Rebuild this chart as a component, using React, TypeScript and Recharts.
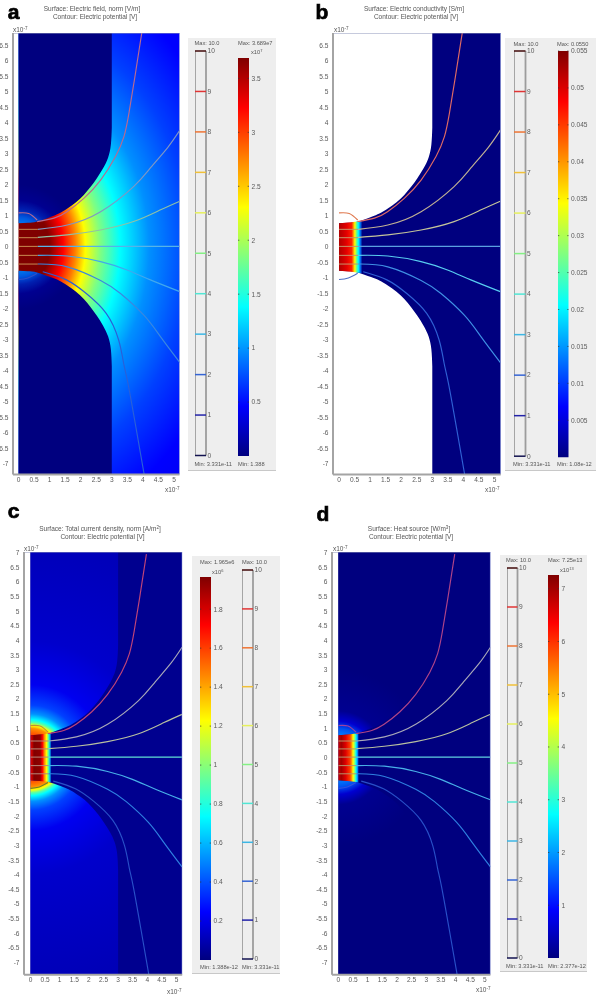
import React from "react";
import { ComposedChart, Area, Line, XAxis, YAxis } from "recharts";

// ---- shared geometry (units of 1e-7 m)
const xTicks = [0, 0.5, 1, 1.5, 2, 2.5, 3, 3.5, 4, 4.5, 5];
const yTicksAB = [-7, -6.5, -6, -5.5, -5, -4.5, -4, -3.5, -3, -2.5, -2, -1.5, -1, -0.5, 0, 0.5, 1, 1.5, 2, 2.5, 3, 3.5, 4, 4.5, 5, 5.5, 6, 6.5];
const yTicksCD = [...yTicksAB, 7];
const levelTicks = [0, 1, 2, 3, 4, 5, 6, 7, 8, 9, 10];
const levelColors = ["#12124f", "#2222a8", "#3464d4", "#3cb6e4", "#50e6d4", "#84f084", "#e6f05c", "#f0c038", "#ee7434", "#e03434", "#400808"];

const electrodeX = [0, 0.3, 0.6, 1.03, 1.3, 1.57, 1.85, 2.1, 2.32, 2.52, 2.72, 2.88, 2.97, 3.0];
const electrodeEdge = [0.77, 0.78, 0.82, 0.97, 1.08, 1.24, 1.44, 1.68, 1.94, 2.22, 2.54, 2.88, 3.3, 3.85];

const line9X = [0.6, 1.14, 1.56, 2.1, 2.64, 3.12, 3.39, 3.55, 3.76, 3.97];
const line9Y = [0.82, 0.93, 1.14, 1.57, 2.16, 2.92, 3.56, 4.31, 5.6, 6.95];
const line8X = [0.62, 1.57, 2.64, 3.7, 4.24, 4.79, 5.19];
const line8Y = [0.57, 0.71, 1.14, 1.95, 2.55, 3.2, 3.77];
const line7X = [0.62, 1.57, 2.64, 3.7, 4.57, 5.19];
const line7Y = [0.31, 0.39, 0.55, 0.82, 1.2, 1.48];
const line5X = [0.62, 5.19];
const line5Y = [0.02, 0.02];
const line4X = [0.62, 1.57, 2.64, 3.49, 4.24, 5.19];
const line4Y = [-0.27, -0.29, -0.47, -0.74, -1.06, -1.44];
const line3X = [0.62, 1.57, 2.64, 3.28, 4.03, 4.57, 5.19];
const line3Y = [-0.55, -0.64, -1.08, -1.5, -2.2, -2.9, -3.73];
const line2X = [0.78, 1.54, 2.18, 2.82, 3.22, 3.38, 3.52, 3.79, 4.06];
const line2Y = [-0.8, -1.06, -1.5, -2.14, -3.0, -3.75, -4.4, -5.9, -7.45];
const arcTopX = [0, 0.33, 0.6];
const arcTopY = [1.1, 1.08, 0.87];
const arcBottomX = [0, 0.3, 0.6];
const arcBottomY = [-1.05, -1.0, -0.85];
const stripTopX = [0, 0.4, 0.8];
const stripTopY = [0.77, 0.8, 0.85];
const innerLineY = [0.57, 0.3, 0.02, -0.27, -0.55];

const jetOffsets = [0, 0.125, 0.375, 0.5, 0.625, 0.875, 1];
const jetColors = ["#00007f", "#0000ff", "#00ffff", "#80ff80", "#ffff00", "#ff0000", "#7f0000"];

// ---- panel a
const aFieldR = [0, 1.0, 1.44, 1.83, 2.15, 2.63, 3.27, 4.2, 5.5, 7, 9];
const aFieldC = ["#7f0000", "#800000", "#ff0000", "#ff8000", "#ffff00", "#80ff80", "#00ffff", "#0090ff", "#0040ff", "#0000ff", "#0000e8"];
const aElecR = [0.7, 0.95, 1.2, 1.5, 2.0, 9];
const aElecC = ["#0080f0", "#0058e0", "#0020b0", "#000090", "#00007f", "#00007f"];
// ---- panel b
const bStripX = [0, 0.12, 0.25, 0.41, 0.46, 0.51, 0.57, 0.62, 0.68, 0.75];
const bStripC = ["#b00000", "#c80000", "#e60000", "#ff2000", "#ff9000", "#ffff00", "#60ff90", "#00ffff", "#0080ff", "#00007f"];
// ---- panel c
const cElecR = [0.75, 1.0, 1.1, 1.2, 1.3, 1.5, 1.8, 2.5, 4, 9];
const cElecC = ["#ff4000", "#ff9000", "#ffff00", "#60ffa0", "#00ffff", "#0090ff", "#0040ff", "#0000f0", "#0000cc", "#0000b0"];
const cStripX = [0, 0.06, 0.12, 0.33, 0.41, 0.48, 0.55, 0.61, 0.66, 0.72];
const cStripC = ["#e00000", "#c00000", "#800000", "#900000", "#ff0000", "#ff9000", "#ffff00", "#60ff90", "#00c0ff", "#00008f"];
// ---- panel d
const dElecR = [0.75, 1.0, 1.25, 1.6, 3, 9];
const dElecC = ["#0080ff", "#0050f0", "#0000d0", "#000090", "#00007f", "#00007f"];
const dStripX = [0, 0.1, 0.25, 0.4, 0.45, 0.5, 0.56, 0.6, 0.65, 0.68];
const dStripC = ["#d00000", "#a00000", "#e00000", "#ff4000", "#ff9000", "#ffff00", "#80ff80", "#00ffff", "#0090ff", "#0070e0"];

const FONT = "'Liberation Sans', Arial, sans-serif";
const TICK = { fontSize: 6.6, fill: "#5a5a5a", fontFamily: FONT };
const zip = (xs: number[], ys: number[]) => xs.map((x, i) => ({ x, y: ys[i] }));

type PanelProps = {
  id: string; axisX: number; right: number; zeroX: number; scale: number;
  top: number; bottom: number; zeroY: number; yScale: number; yTicks: number[];
  fieldFill: string; elecFill: string;
  field?: [number[], string[], number];
  elec?: [number[], string[]];
  strip?: [number[], string[], number];
  colors: string[]; innerColor: string;
};

function stripStops(xs: number[], cs: string[], end: number) {
  return xs.map((x, i) => <stop key={i} offset={x / end} stopColor={cs[i]} />);
}

function FieldPlot(p: PanelProps) {
  const W = 30, mt = 10, mr = 5, H = 30;
  const plotW = p.right - p.axisX, plotH = p.bottom - p.top;
  const xMin = (p.axisX - p.zeroX) / p.scale;
  const xMax = (p.right - p.zeroX) / p.scale;
  const yMax = (p.zeroY - p.top) / p.yScale;
  const yMin = (p.zeroY - p.bottom) / p.yScale;
  const cx = W + (0 - xMin) * p.scale;
  const cy = mt + yMax * p.yScale;
  const bg = [{ x: 0, r: [yMin, yMax] }, { x: xMax, r: [yMin, yMax] }];
  const elecTop = electrodeX.map((x, i) => ({ x, r: [electrodeEdge[i], yMax] }));
  const elecBot = electrodeX.map((x, i) => ({ x, r: [yMin, -electrodeEdge[i]] }));
  const stripEnd = p.strip ? p.strip[2] : 0.7;
  const strip = [...stripTopX.filter((x) => x < stripEnd), stripEnd].map((x) => {
    const k = x <= 0.4 ? x / 0.4 : (x - 0.4) / 0.4;
    const e = x <= 0.4 ? stripTopY[0] + (stripTopY[1] - stripTopY[0]) * k : stripTopY[1] + (stripTopY[2] - stripTopY[1]) * k;
    return { x, r: [-e, e] };
  });
  const lines: [number[], number[]][] = [[line9X, line9Y], [line8X, line8Y], [line7X, line7Y], [line5X, line5Y], [line4X, line4Y], [line3X, line3Y], [line2X, line2Y], [arcTopX, arcTopY], [arcBottomX, arcBottomY]];
  return (
    <div style={{ position: "absolute", left: p.axisX - W, top: p.top - mt }}>
      <ComposedChart width={W + plotW + mr} height={mt + plotH + H} margin={{ top: mt, right: mr, bottom: 0, left: 0 }}>
        <defs>
          {p.field && (
            <radialGradient id={p.id + "f"} gradientUnits="userSpaceOnUse" cx={cx} cy={cy} r={p.field[0][p.field[0].length - 1] * p.scale}
              gradientTransform={`translate(${cx} ${cy}) scale(1 ${p.field[2]}) translate(${-cx} ${-cy})`}>
              {p.field[0].map((r, i) => <stop key={i} offset={r / p.field![0][p.field![0].length - 1]} stopColor={p.field![1][i]} />)}
            </radialGradient>
          )}
          {p.elec && (
            <radialGradient id={p.id + "e"} gradientUnits="userSpaceOnUse" cx={cx} cy={cy} r={p.elec[0][p.elec[0].length - 1] * p.scale}>
              {p.elec[0].map((r, i) => <stop key={i} offset={r / p.elec![0][p.elec![0].length - 1]} stopColor={p.elec![1][i]} />)}
            </radialGradient>
          )}
          {p.strip && (
            <linearGradient id={p.id + "s"} x1="0" x2="1" y1="0" y2="0">
              {stripStops(p.strip[0], p.strip[1], p.strip[2])}
            </linearGradient>
          )}
        </defs>
        <XAxis dataKey="x" type="number" domain={[xMin, xMax]} ticks={xTicks} allowDataOverflow height={H} tick={TICK} tickLine={false} tickSize={0} tickMargin={3} interval={0}
          axisLine={{ stroke: "#a4a4a4", strokeWidth: 2 }} />
        <YAxis type="number" domain={[yMin, yMax]} ticks={p.yTicks} allowDataOverflow width={W} tick={TICK} tickLine={false} tickSize={0} tickMargin={4.5} interval={0}
          axisLine={{ stroke: "#a4a4a4", strokeWidth: 2 }} />
        <Area data={bg} dataKey="r" type="linear" stroke="none" fill={p.field ? `url(#${p.id}f)` : p.fieldFill} fillOpacity={1} dot={false} activeDot={false} isAnimationActive={false} />
        <Area data={elecTop} dataKey="r" type="natural" stroke="none" fill={p.elec ? `url(#${p.id}e)` : p.elecFill} fillOpacity={1} dot={false} activeDot={false} isAnimationActive={false} />
        <Area data={elecBot} dataKey="r" type="natural" stroke="none" fill={p.elec ? `url(#${p.id}e)` : p.elecFill} fillOpacity={1} dot={false} activeDot={false} isAnimationActive={false} />
        {p.strip && <Area data={strip} dataKey="r" type="linear" stroke="none" fill={`url(#${p.id}s)`} fillOpacity={1} dot={false} activeDot={false} isAnimationActive={false} />}
        {innerLineY.map((y, i) => (
          <Line key={"in" + i} data={[{ x: 0, y }, { x: 0.62, y }]} dataKey="y" type="linear" stroke={p.innerColor} strokeWidth={1} dot={false} activeDot={false} isAnimationActive={false} />
        ))}
        {lines.map(([xs, ys], i) => (
          <Line key={i} data={zip(xs, ys)} dataKey="y" type="natural" stroke={p.colors[i]} strokeWidth={1.15} dot={false} activeDot={false} isAnimationActive={false} />
        ))}
        <Line data={[{ x: xMin, y: yMax }, { x: xMax, y: yMax }]} dataKey="y" type="linear" stroke="#8d96bb" strokeWidth={1.2} dot={false} activeDot={false} isAnimationActive={false} />
        <Line data={[{ x: xMax, y: yMin }, { x: xMax, y: yMax }]} dataKey="y" type="linear" stroke="#6f7ed0" strokeWidth={1} dot={false} activeDot={false} isAnimationActive={false} />
      </ComposedChart>
    </div>
  );
}

function ContourBar({ left, top, bottom, width }: { left: number; top: number; bottom: number; width: number }) {
  const m = 5;
  return (
    <div style={{ position: "absolute", left, top: top - m }}>
      <ComposedChart width={width + 24} height={bottom - top + 2 * m} margin={{ top: m, bottom: m, left: 0, right: 0 }}>
        <XAxis hide dataKey="x" type="number" domain={[0, 1]} />
        <YAxis orientation="right" type="number" domain={[0, 10]} ticks={levelTicks} interval={0} width={24} axisLine={false} tickLine={false} tickSize={0} tick={TICK} tickMargin={1.5} />
        <Line data={[{ x: 0, y: 0 }, { x: 0, y: 10 }]} dataKey="y" type="linear" stroke="#9c9c9c" strokeWidth={1.8} dot={false} activeDot={false} isAnimationActive={false} />
        <Line data={[{ x: 1, y: 0 }, { x: 1, y: 10 }]} dataKey="y" type="linear" stroke="#9c9c9c" strokeWidth={1.8} dot={false} activeDot={false} isAnimationActive={false} />
        {levelTicks.map((l) => (
          <Line key={l} data={[{ x: 0, y: l }, { x: 1, y: l }]} dataKey="y" type="linear" stroke={levelColors[l]} strokeWidth={1.5} dot={false} activeDot={false} isAnimationActive={false} />
        ))}
      </ComposedChart>
    </div>
  );
}

function SurfaceBar({ id, left, top, bottom, width, max, ticks }: { id: string; left: number; top: number; bottom: number; width: number; max: number; ticks: number[] }) {
  const m = 5;
  return (
    <div style={{ position: "absolute", left, top: top - m }}>
      <ComposedChart width={width + 30} height={bottom - top + 2 * m} margin={{ top: m, bottom: m, left: 0, right: 0 }}>
        <defs>
          <linearGradient id={id} x1="0" x2="0" y1="1" y2="0">
            {jetOffsets.map((o, i) => <stop key={i} offset={o} stopColor={jetColors[i]} />)}
          </linearGradient>
        </defs>
        <XAxis hide dataKey="x" type="number" domain={[0, 1]} />
        <YAxis orientation="right" type="number" domain={[0, max]} ticks={ticks} interval={0} width={30} axisLine={false} tick={TICK} tickSize={0} tickLine={false} tickMargin={2.5} />
        <Area data={[{ x: 0, r: [0, max] }, { x: 1, r: [0, max] }]} dataKey="r" type="linear" stroke="none" fill={`url(#${id})`} fillOpacity={1} dot={false} activeDot={false} isAnimationActive={false} />
        {ticks.map((t) => (
          <Line key={"l" + t} data={[{ x: 0, y: t }, { x: 0.12, y: t }]} dataKey="y" type="linear" stroke="#333" strokeWidth={0.7} dot={false} activeDot={false} isAnimationActive={false} />
        ))}
        {ticks.map((t) => (
          <Line key={"r" + t} data={[{ x: 0.88, y: t }, { x: 1, y: t }]} dataKey="y" type="linear" stroke="#333" strokeWidth={0.7} dot={false} activeDot={false} isAnimationActive={false} />
        ))}
      </ComposedChart>
    </div>
  );
}

function T({ x, y, center, size = 6.5, color = "#555", children }: { x: number; y: number; center?: boolean; size?: number; color?: string; children: React.ReactNode }) {
  return (
    <div style={{ position: "absolute", left: x, top: y, transform: `translate(${center ? "-50%" : "0"}, -50%)`, fontSize: size, color, fontFamily: FONT, whiteSpace: "nowrap", lineHeight: 1 }}>
      {children}
    </div>
  );
}
const Sup = ({ children }: { children: React.ReactNode }) => (
  <span style={{ fontSize: "70%", position: "relative", top: "-0.4em" }}>{children}</span>
);
const Letter = ({ x, y, s }: { x: number; y: number; s: string }) => (
  <div style={{ position: "absolute", left: x, top: y, transform: "translate(-50%,-50%)", fontFamily: FONT, fontWeight: 700, fontSize: 21, lineHeight: 1, color: "#000", WebkitTextStroke: "0.7px #000" }}>{s}</div>
);
const Box = ({ l, r, t, b }: { l: number; r: number; t: number; b: number }) => (
  <div style={{ position: "absolute", left: l, top: t, width: r - l, height: b - t, background: "#eeeeee", borderBottom: "1px solid #c8c8c8" }} />
);

const aColors = ["#b86a90", "#7f97c4", "#8fc2a6", "#55b4e8", "#40a8ee", "#3a88e0", "#2a60d8", "#b86a90", "#3050c8"];
const bColors = ["#e06a64", "#c0b094", "#c4c49a", "#5aa0e0", "#58cdf0", "#3f90e4", "#2f60d4", "#e07a50", "#5070c4"];
const cColors = ["#c04478", "#a8a8b8", "#b8c0a0", "#60e0d4", "#48b0e8", "#2f80e0", "#2850c8", "#c09030", "#708028"];
const dColors = ["#b04488", "#a8a8b8", "#b8c0a0", "#60d0e0", "#48b0e8", "#2f80e0", "#2850c8", "#a040a0", "#3050e0"];

export default function App() {
  return (
    <div style={{ position: "absolute", left: 0, top: 0, width: 602, height: 1000, overflow: "hidden", background: "#fff", filter: "blur(0.45px)" }}>
      <Letter x={13.5} y={11} s="a" />
      <Letter x={322} y={11} s="b" />
      <Letter x={13.5} y={510} s="c" />
      <Letter x={323} y={513} s="d" />

      <T x={92} y={8.5} center>Surface: Electric field, norm [V/m]</T>
      <T x={95} y={16.5} center>Contour: Electric potential [V]</T>
      <T x={414} y={8.5} center>Surface: Electric conductivity [S/m]</T>
      <T x={416} y={16.5} center>Contour: Electric potential [V]</T>
      <T x={100} y={529} center>Surface: Total current density, norm [A/m<Sup>2</Sup>]</T>
      <T x={102.5} y={537} center>Contour: Electric potential [V]</T>
      <T x={409} y={529} center>Surface: Heat source [W/m<Sup>3</Sup>]</T>
      <T x={411} y={537} center>Contour: Electric potential [V]</T>

      <FieldPlot id="a" axisX={12.5} right={179} zeroX={18} scale={31.1} top={33} bottom={474.5} zeroY={247} yScale={31} yTicks={yTicksAB}
        fieldFill="#0000ff" elecFill="#00007f" field={[aFieldR, aFieldC, 1.3]} elec={[aElecR, aElecC]} colors={aColors} innerColor="#c88a50" />
      <FieldPlot id="b" axisX={333} right={500.7} zeroX={339} scale={31.1} top={33} bottom={474.5} zeroY={247} yScale={31} yTicks={yTicksAB}
        fieldFill="#00007f" elecFill="#ffffff" strip={[bStripX, bStripC, 0.75]} colors={bColors} innerColor="#c89468" />
      <FieldPlot id="c" axisX={23.5} right={181.7} zeroX={30} scale={29.2} top={552.3} bottom={975} zeroY={758} yScale={29.29} yTicks={yTicksCD}
        fieldFill="#00008f" elecFill="#0000b0" elec={[cElecR, cElecC]} strip={[cStripX, cStripC, 0.72]} colors={cColors} innerColor="#b88878" />
      <FieldPlot id="d" axisX={332.3} right={490.7} zeroX={338.7} scale={29.3} top={552.3} bottom={975} zeroY={758} yScale={29.29} yTicks={yTicksCD}
        fieldFill="#00007f" elecFill="#00008a" elec={[dElecR, dElecC]} strip={[dStripX, dStripC, 0.68]} colors={dColors} innerColor="#b89468" />

      <T x={165} y={490}>x10<Sup>-7</Sup></T>
      <T x={13} y={30}>x10<Sup>-7</Sup></T>
      <T x={485} y={490}>x10<Sup>-7</Sup></T>
      <T x={334} y={30}>x10<Sup>-7</Sup></T>
      <T x={167} y={992}>x10<Sup>-7</Sup></T>
      <T x={24} y={549}>x10<Sup>-7</Sup></T>
      <T x={476} y={990}>x10<Sup>-7</Sup></T>
      <T x={333} y={549}>x10<Sup>-7</Sup></T>

      <Box l={188} r={276} t={38} b={470} />
      <Box l={505} r={596} t={38} b={470} />
      <Box l={192} r={280} t={556} b={973} />
      <Box l={500} r={587} t={555} b={971} />

      <ContourBar left={195} top={50.5} bottom={455} width={11} />
      <SurfaceBar id="ja" left={238} top={58} bottom={456} width={11} max={3.689} ticks={[0.5, 1, 1.5, 2, 2.5, 3, 3.5]} />
      <ContourBar left={514} top={50.5} bottom={455.7} width={11.5} />
      <SurfaceBar id="jb" left={558} top={50.5} bottom={456.7} width={10.5} max={0.055} ticks={[0.005, 0.01, 0.015, 0.02, 0.025, 0.03, 0.035, 0.04, 0.045, 0.05, 0.055]} />
      <SurfaceBar id="jc" left={200} top={577} bottom={960} width={11} max={1.965} ticks={[0.2, 0.4, 0.6, 0.8, 1, 1.2, 1.4, 1.6, 1.8]} />
      <ContourBar left={242} top={570} bottom={959} width={11} />
      <ContourBar left={507} top={568} bottom={958} width={10.5} />
      <SurfaceBar id="jd" left={548} top={575} bottom={958} width={11} max={7.26} ticks={[1, 2, 3, 4, 5, 6, 7]} />

      <T x={194.5} y={44} size={5.7}>Max: 10.0</T>
      <T x={238} y={44} size={5.7}>Max: 3.689e7</T>
      <T x={251} y={53} size={5.7}>x10<Sup>7</Sup></T>
      <T x={194.5} y={465} size={5.7}>Min: 3.331e-11</T>
      <T x={238} y={465} size={5.7}>Min: 1.388</T>

      <T x={513.5} y={44.5} size={5.7}>Max: 10.0</T>
      <T x={557} y={44.5} size={5.7}>Max: 0.0550</T>
      <T x={513} y={465} size={5.7}>Min: 3.331e-11</T>
      <T x={557} y={465} size={5.7}>Min: 1.08e-12</T>

      <T x={200} y={563} size={5.7}>Max: 1.965e6</T>
      <T x={242} y={563} size={5.7}>Max: 10.0</T>
      <T x={212} y={573} size={5.7}>x10<Sup>6</Sup></T>
      <T x={200} y={968} size={5.7}>Min: 1.388e-12</T>
      <T x={242} y={968} size={5.7}>Min: 3.331e-11</T>

      <T x={506} y={561} size={5.7}>Max: 10.0</T>
      <T x={548} y={561} size={5.7}>Max: 7.25e13</T>
      <T x={560} y={571} size={5.7}>x10<Sup>13</Sup></T>
      <T x={506} y={966.5} size={5.7}>Min: 3.331e-11</T>
      <T x={548} y={966.5} size={5.7}>Min: 2.377e-12</T>
    </div>
  );
}
